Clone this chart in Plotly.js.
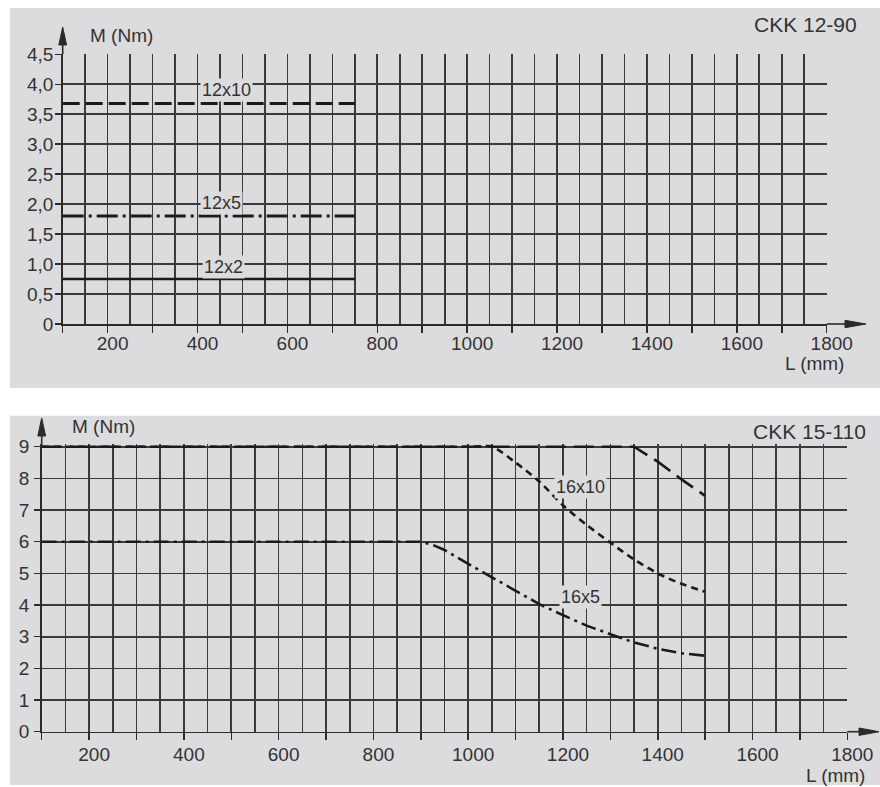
<!DOCTYPE html>
<html>
<head>
<meta charset="utf-8">
<script src="https://cdn.plot.ly/plotly-3.0.1.min.js"></script>
<style>html,body{margin:0;padding:0;background:#fff;}#chart{width:880px;height:787px;}</style>
</head>
<body>
<div id="chart"></div>
<script>
// ---------- DATA ----------
// Panel 1: CKK 12-90
const L_12 = [100, 750];
const M_12x10 = [3.68, 3.68];
const M_12x5 = [1.8, 1.8];
const M_12x2 = [0.75, 0.75];
const yTickVals1 = [0, 0.5, 1.0, 1.5, 2.0, 2.5, 3.0, 3.5, 4.0, 4.5];
const yTickText1 = ["0", "0,5", "1,0", "1,5", "2,0", "2,5", "3,0", "3,5", "4,0", "4,5"];

// Panel 2: CKK 15-110
const L_16x16 = [100, 1350, 1400, 1450, 1500];
const M_16x16 = [9, 9, 8.53, 7.97, 7.45];
const L_16x10 = [100, 1000, 1050, 1100, 1150, 1200, 1250, 1300, 1350, 1400, 1450, 1500];
const M_16x10 = [9, 9, 9, 8.5, 7.9, 7.15, 6.53, 5.97, 5.44, 5.0, 4.67, 4.42];
const L_16x5 = [100, 900, 925, 950, 1000, 1050, 1100, 1150, 1200, 1250, 1300, 1350, 1400, 1450, 1500];
const M_16x5 = [6, 6, 5.9, 5.74, 5.3, 4.88, 4.45, 4.03, 3.68, 3.35, 3.08, 2.82, 2.62, 2.48, 2.4];
const yTickVals2 = [0, 1, 2, 3, 4, 5, 6, 7, 8, 9];
const yTickText2 = ["0", "1", "2", "3", "4", "5", "6", "7", "8", "9"];

const xTickVals = [100, 200, 300, 400, 500, 600, 700, 800, 900, 1000, 1100, 1200, 1300, 1400, 1500, 1600, 1700, 1800];
const xTickText = ["", "200", "", "400", "", "600", "", "800", "", "1000", "", "1200", "", "1400", "", "1600", "", "1800"];

// ---------- STYLE ----------
const W = 880, H = 787;
const px = x => x / W;
const py = y => 1 - y / H;
const INK = '#2b2b2b';
const GRID = '#3a3a3a';
const BG = '#dcdcde';
const FONT = 'Liberation Sans, Arial, Helvetica, sans-serif';

function xaxisCfg(domain, anchor, standoff) {
  return {
    domain: domain, anchor: anchor, range: [100, 1800],
    tickmode: 'array', tickvals: xTickVals, ticktext: xTickText,
    ticks: 'outside', ticklen: 7, tickwidth: 1.5, tickcolor: INK,
    showgrid: true, gridcolor: GRID, gridwidth: 1.6,
    minor: {tick0: 100, dtick: 50, showgrid: true, gridcolor: GRID, gridwidth: 1.6, ticklen: 0},
    showline: true, linecolor: INK, linewidth: 1.6,
    zeroline: false, fixedrange: true,
    ticklabelshift: 5, ticklabelstandoff: standoff,
    tickfont: {family: FONT, size: 19, color: '#333'}
  };
}
function yaxisCfg(domain, anchor, range, vals, text, standoff) {
  return {
    domain: domain, anchor: anchor, range: range,
    tickmode: 'array', tickvals: vals, ticktext: text,
    ticks: 'outside', ticklen: 6, tickwidth: 1.5, tickcolor: INK,
    showgrid: true, gridcolor: GRID, gridwidth: 1.6,
    showline: true, linecolor: INK, linewidth: 1.6,
    zeroline: false, fixedrange: true,
    ticklabelstandoff: standoff,
    tickfont: {family: FONT, size: 19, color: '#333'}
  };
}

const traces = [
  {x: L_12, y: M_12x10, xaxis: 'x', yaxis: 'y', mode: 'lines', name: '12x10',
   line: {color: '#1a1a1a', width: 3, dash: '17px,6px'}},
  {x: L_12, y: M_12x5, xaxis: 'x', yaxis: 'y', mode: 'lines', name: '12x5',
   line: {color: '#1a1a1a', width: 3, dash: '21px,5px,3px,5px'}},
  {x: L_12, y: M_12x2, xaxis: 'x', yaxis: 'y', mode: 'lines', name: '12x2',
   line: {color: '#1a1a1a', width: 2.5}},
  {x: L_16x16, y: M_16x16, xaxis: 'x2', yaxis: 'y2', mode: 'lines', name: '16x16',
   line: {color: '#1a1a1a', width: 2.6, dash: '20px,8px'}},
  {x: L_16x10, y: M_16x10, xaxis: 'x2', yaxis: 'y2', mode: 'lines', name: '16x10',
   line: {color: '#1a1a1a', width: 2.6, dash: '7px,5px', shape: 'spline', smoothing: 0.8}},
  {x: L_16x5, y: M_16x5, xaxis: 'x2', yaxis: 'y2', mode: 'lines', name: '16x5',
   line: {color: '#1a1a1a', width: 2.6, dash: '15px,5px,3px,5px'}}
];

const X1 = [px(62.7), px(826.7)], Y1 = [py(324), py(54.3)];
const X2 = [px(41.7), px(847.3)], Y2 = [py(731.7), py(444.2)];

function line(x0, y0, x1, y1) {
  return {type: 'line', xref: 'paper', yref: 'paper', x0: px(x0), y0: py(y0), x1: px(x1), y1: py(y1),
          line: {color: INK, width: 1.6}};
}
function tri(pts) {
  const d = 'M' + pts.map(p => px(p[0]) + ',' + py(p[1])).join(' L') + ' Z';
  return {type: 'path', xref: 'paper', yref: 'paper', path: d, fillcolor: INK, line: {color: INK, width: 1}};
}

const shapes = [
  {type: 'rect', xref: 'paper', yref: 'paper', x0: px(10), x1: px(880), y0: py(388), y1: py(8),
   fillcolor: BG, line: {width: 0}, layer: 'below'},
  {type: 'rect', xref: 'paper', yref: 'paper', x0: px(10), x1: px(880), y0: py(785), y1: py(415.7),
   fillcolor: BG, line: {width: 0}, layer: 'below'},
  // panel 1 axis arrows
  line(62.7, 54.3, 62.7, 40), tri([[62.7, 27], [58.8, 45], [66.6, 45]]),
  line(826.7, 324, 850, 324), tri([[866, 324], [845, 320.3], [845, 327.7]]),
  // panel 2 axis arrows
  line(41.7, 446.7, 41.7, 430), tri([[41.7, 418], [37.8, 436], [45.6, 436]]),
  line(847.3, 731.7, 864, 731.7), tri([[879, 731.7], [859, 728], [859, 735.4]])
];

function ann(text, x, y, xanchor, size) {
  return {text: text, xref: 'paper', yref: 'paper', x: px(x), y: py(y), xanchor: xanchor || 'center',
          yanchor: 'middle', showarrow: false, font: {family: FONT, size: size || 18, color: '#333'}};
}
function lab(text, x, y, xa, ya) {
  return {text: text, xref: xa, yref: ya, x: x, y: y, xanchor: 'center', yanchor: 'middle',
          showarrow: false, bgcolor: BG, borderpad: 1,
          font: {family: FONT, size: 18, color: '#333'}};
}

const annotations = [
  ann('CKK 12-90', 859, 25, 'right', 21),
  ann('M (Nm)', 88, 36, 'left', 19),
  ann('L (mm)', 814, 363, 'center', 19),
  ann('CKK 15-110', 868, 431, 'right', 21),
  ann('M (Nm)', 70, 427, 'left', 19),
  ann('L (mm)', 835, 775, 'center', 19),
  lab('12x10', 465, 3.9, 'x', 'y'),
  lab('12x5', 454, 2.02, 'x', 'y'),
  lab('12x2', 457, 0.955, 'x', 'y'),
  {text: '16x16', xref: 'x2', yref: 'y2', x: 1235, y: 9.47, xanchor: 'center', yanchor: 'middle',
   showarrow: false, font: {family: FONT, size: 18, color: '#333'}},
  lab('16x10', 1236, 7.74, 'x2', 'y2'),
  lab('16x5', 1236, 4.24, 'x2', 'y2')
];

const layout = {
  width: W, height: H,
  margin: {l: 0, r: 0, t: 0, b: 0},
  paper_bgcolor: '#ffffff', plot_bgcolor: 'rgba(0,0,0,0)',
  showlegend: false,
  font: {family: FONT, color: '#333'},
  xaxis: xaxisCfg(X1, 'y', -5),
  yaxis: yaxisCfg(Y1, 'x', [0, 4.5], yTickVals1, yTickText1, -2),
  xaxis2: xaxisCfg(X2, 'y2', -2),
  yaxis2: yaxisCfg(Y2, 'x2', [0, 9.08], yTickVals2, yTickText2, 1),
  shapes: shapes,
  annotations: annotations
};

Plotly.newPlot('chart', traces, layout, {staticPlot: true, displayModeBar: false});
</script>
</body>
</html>
